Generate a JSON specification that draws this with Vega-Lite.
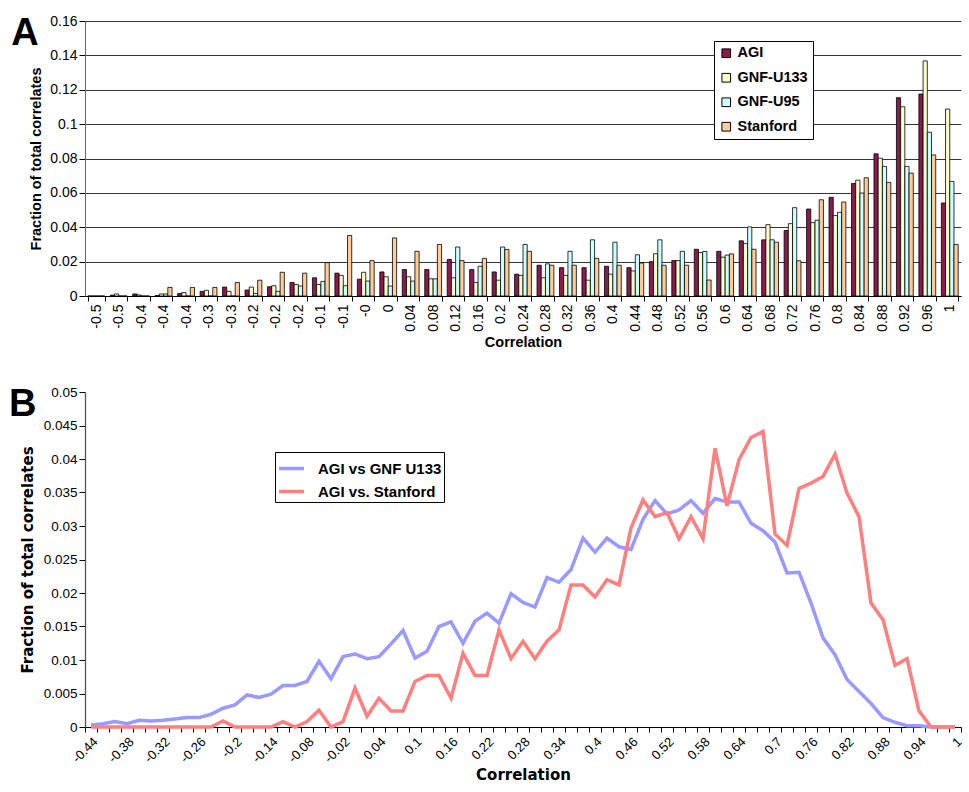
{
  "$schema": "https://vega.github.io/schema/vega-lite/v6.json",
  "background": "white",
  "padding": {"left": 9, "top": 14, "right": 0, "bottom": 0},
  "config": {
    "font": "Liberation Sans",
    "view": {"stroke": null},
    "axis": {"labelColor": "black", "titleColor": "black", "tickColor": "black", "domainColor": "black", "grid": false},
    "legend": {"labelColor": "black"}
  },
  "datasets": {
    "bars": [
      {"c": -0.52, "AGI": 0, "GNF-U133": 0, "GNF-U95": 0, "Stanford": 0},
      {"c": -0.48, "AGI": 0.0005, "GNF-U133": 0.0012, "GNF-U95": 0, "Stanford": 0},
      {"c": -0.44, "AGI": 0.0012, "GNF-U133": 0.0006, "GNF-U95": 0, "Stanford": 0},
      {"c": -0.40, "AGI": 0.0003, "GNF-U133": 0.0012, "GNF-U95": 0.0012, "Stanford": 0.005},
      {"c": -0.36, "AGI": 0.0015, "GNF-U133": 0.002, "GNF-U95": 0, "Stanford": 0.005},
      {"c": -0.32, "AGI": 0.0027, "GNF-U133": 0.0033, "GNF-U95": 0, "Stanford": 0.005},
      {"c": -0.28, "AGI": 0.0052, "GNF-U133": 0.0027, "GNF-U95": 0, "Stanford": 0.0079},
      {"c": -0.24, "AGI": 0.0035, "GNF-U133": 0.0052, "GNF-U95": 0.0015, "Stanford": 0.0092},
      {"c": -0.20, "AGI": 0.0054, "GNF-U133": 0.006, "GNF-U95": 0.0027, "Stanford": 0.0138},
      {"c": -0.16, "AGI": 0.0079, "GNF-U133": 0.0067, "GNF-U95": 0.0058, "Stanford": 0.0133},
      {"c": -0.12, "AGI": 0.0106, "GNF-U133": 0.0067, "GNF-U95": 0.0085, "Stanford": 0.0194},
      {"c": -0.08, "AGI": 0.0133, "GNF-U133": 0.012, "GNF-U95": 0.006, "Stanford": 0.0352},
      {"c": -0.04, "AGI": 0.0098, "GNF-U133": 0.0138, "GNF-U95": 0.0087, "Stanford": 0.0206},
      {"c": 0, "AGI": 0.014, "GNF-U133": 0.0112, "GNF-U95": 0.0058, "Stanford": 0.0338},
      {"c": 0.04, "AGI": 0.0154, "GNF-U133": 0.0112, "GNF-U95": 0.0087, "Stanford": 0.026},
      {"c": 0.08, "AGI": 0.0154, "GNF-U133": 0.01, "GNF-U95": 0.01, "Stanford": 0.03},
      {"c": 0.12, "AGI": 0.0213, "GNF-U133": 0.0106, "GNF-U95": 0.0285, "Stanford": 0.0206},
      {"c": 0.16, "AGI": 0.0154, "GNF-U133": 0.0079, "GNF-U95": 0.0173, "Stanford": 0.0219},
      {"c": 0.2, "AGI": 0.014, "GNF-U133": 0.0092, "GNF-U95": 0.0285, "Stanford": 0.0271},
      {"c": 0.24, "AGI": 0.0127, "GNF-U133": 0.012, "GNF-U95": 0.03, "Stanford": 0.026},
      {"c": 0.28, "AGI": 0.0179, "GNF-U133": 0.0106, "GNF-U95": 0.0187, "Stanford": 0.0179},
      {"c": 0.32, "AGI": 0.0165, "GNF-U133": 0.012, "GNF-U95": 0.026, "Stanford": 0.0179},
      {"c": 0.36, "AGI": 0.0165, "GNF-U133": 0.0092, "GNF-U95": 0.0327, "Stanford": 0.0219},
      {"c": 0.4, "AGI": 0.0173, "GNF-U133": 0.0127, "GNF-U95": 0.0313, "Stanford": 0.0179},
      {"c": 0.44, "AGI": 0.0165, "GNF-U133": 0.0146, "GNF-U95": 0.024, "Stanford": 0.0192},
      {"c": 0.48, "AGI": 0.02, "GNF-U133": 0.0246, "GNF-U95": 0.0327, "Stanford": 0.0179},
      {"c": 0.52, "AGI": 0.0206, "GNF-U133": 0.0206, "GNF-U95": 0.026, "Stanford": 0.0179},
      {"c": 0.56, "AGI": 0.0272, "GNF-U133": 0.0253, "GNF-U95": 0.0259, "Stanford": 0.0093},
      {"c": 0.6, "AGI": 0.026, "GNF-U133": 0.0226, "GNF-U95": 0.0238, "Stanford": 0.0245},
      {"c": 0.64, "AGI": 0.0321, "GNF-U133": 0.0305, "GNF-U95": 0.0402, "Stanford": 0.0272},
      {"c": 0.68, "AGI": 0.0327, "GNF-U133": 0.0415, "GNF-U95": 0.0327, "Stanford": 0.0313},
      {"c": 0.72, "AGI": 0.0381, "GNF-U133": 0.0421, "GNF-U95": 0.0514, "Stanford": 0.0205},
      {"c": 0.76, "AGI": 0.0506, "GNF-U133": 0.0427, "GNF-U95": 0.0441, "Stanford": 0.056},
      {"c": 0.8, "AGI": 0.0574, "GNF-U133": 0.0468, "GNF-U95": 0.0487, "Stanford": 0.0547},
      {"c": 0.84, "AGI": 0.0655, "GNF-U133": 0.0674, "GNF-U95": 0.0599, "Stanford": 0.0688},
      {"c": 0.88, "AGI": 0.0827, "GNF-U133": 0.0802, "GNF-U95": 0.0754, "Stanford": 0.0661},
      {"c": 0.92, "AGI": 0.1154, "GNF-U133": 0.1101, "GNF-U95": 0.0754, "Stanford": 0.0715},
      {"c": 0.96, "AGI": 0.1175, "GNF-U133": 0.1368, "GNF-U95": 0.0953, "Stanford": 0.0821},
      {"c": 1, "AGI": 0.0541, "GNF-U133": 0.1088, "GNF-U95": 0.0667, "Stanford": 0.03}
    ],
    "lines": [
      {"c": -0.44, "gnf": 0.0003, "stanford": 0},
      {"c": -0.42, "gnf": 0.0005, "stanford": 0},
      {"c": -0.4, "gnf": 0.0008, "stanford": 0},
      {"c": -0.38, "gnf": 0.0005, "stanford": 0},
      {"c": -0.36, "gnf": 0.001, "stanford": 0},
      {"c": -0.34, "gnf": 0.0009, "stanford": 0},
      {"c": -0.32, "gnf": 0.001, "stanford": 0},
      {"c": -0.3, "gnf": 0.0012, "stanford": 0},
      {"c": -0.28, "gnf": 0.0014, "stanford": 0},
      {"c": -0.26, "gnf": 0.0014, "stanford": 0},
      {"c": -0.24, "gnf": 0.0019, "stanford": 0},
      {"c": -0.22, "gnf": 0.0028, "stanford": 0.0009},
      {"c": -0.2, "gnf": 0.0033, "stanford": 0},
      {"c": -0.18, "gnf": 0.0048, "stanford": 0},
      {"c": -0.16, "gnf": 0.0044, "stanford": 0},
      {"c": -0.14, "gnf": 0.0049, "stanford": 0},
      {"c": -0.12, "gnf": 0.0062, "stanford": 0.0008},
      {"c": -0.1, "gnf": 0.0062, "stanford": 0},
      {"c": -0.08, "gnf": 0.0068, "stanford": 0.0008},
      {"c": -0.06, "gnf": 0.0098, "stanford": 0.0025},
      {"c": -0.04, "gnf": 0.0072, "stanford": 0},
      {"c": -0.02, "gnf": 0.0105, "stanford": 0.0008},
      {"c": 0, "gnf": 0.0109, "stanford": 0.0058},
      {"c": 0.02, "gnf": 0.0102, "stanford": 0.0016},
      {"c": 0.04, "gnf": 0.0105, "stanford": 0.0043},
      {"c": 0.06, "gnf": 0.0124, "stanford": 0.0024},
      {"c": 0.08, "gnf": 0.0144, "stanford": 0.0024},
      {"c": 0.1, "gnf": 0.0103, "stanford": 0.0068},
      {"c": 0.12, "gnf": 0.0113, "stanford": 0.0077},
      {"c": 0.14, "gnf": 0.015, "stanford": 0.0077},
      {"c": 0.16, "gnf": 0.0157, "stanford": 0.0043},
      {"c": 0.18, "gnf": 0.0125, "stanford": 0.011},
      {"c": 0.2, "gnf": 0.0158, "stanford": 0.0077},
      {"c": 0.22, "gnf": 0.017, "stanford": 0.0077},
      {"c": 0.24, "gnf": 0.0155, "stanford": 0.0145},
      {"c": 0.26, "gnf": 0.0199, "stanford": 0.0102},
      {"c": 0.28, "gnf": 0.0186, "stanford": 0.0128},
      {"c": 0.3, "gnf": 0.0179, "stanford": 0.0102},
      {"c": 0.32, "gnf": 0.0223, "stanford": 0.0128},
      {"c": 0.34, "gnf": 0.0216, "stanford": 0.0145},
      {"c": 0.36, "gnf": 0.0235, "stanford": 0.0212},
      {"c": 0.38, "gnf": 0.0282, "stanford": 0.0212},
      {"c": 0.4, "gnf": 0.0261, "stanford": 0.0194},
      {"c": 0.42, "gnf": 0.0282, "stanford": 0.022},
      {"c": 0.44, "gnf": 0.0269, "stanford": 0.0212},
      {"c": 0.46, "gnf": 0.0265, "stanford": 0.0297},
      {"c": 0.48, "gnf": 0.031, "stanford": 0.0339},
      {"c": 0.5, "gnf": 0.0338, "stanford": 0.0314},
      {"c": 0.52, "gnf": 0.0318, "stanford": 0.032},
      {"c": 0.54, "gnf": 0.0324, "stanford": 0.0281},
      {"c": 0.56, "gnf": 0.0338, "stanford": 0.0314},
      {"c": 0.58, "gnf": 0.0319, "stanford": 0.0281},
      {"c": 0.6, "gnf": 0.0341, "stanford": 0.0416},
      {"c": 0.62, "gnf": 0.0336, "stanford": 0.033},
      {"c": 0.64, "gnf": 0.0336, "stanford": 0.0399},
      {"c": 0.66, "gnf": 0.0304, "stanford": 0.0432},
      {"c": 0.68, "gnf": 0.0293, "stanford": 0.0441},
      {"c": 0.7, "gnf": 0.0276, "stanford": 0.0288},
      {"c": 0.72, "gnf": 0.023, "stanford": 0.0271},
      {"c": 0.74, "gnf": 0.0231, "stanford": 0.0356},
      {"c": 0.76, "gnf": 0.0185, "stanford": 0.0364},
      {"c": 0.78, "gnf": 0.0133, "stanford": 0.0374},
      {"c": 0.8, "gnf": 0.0108, "stanford": 0.0407},
      {"c": 0.82, "gnf": 0.0071, "stanford": 0.0349},
      {"c": 0.84, "gnf": 0.0053, "stanford": 0.0314},
      {"c": 0.86, "gnf": 0.0035, "stanford": 0.0185},
      {"c": 0.88, "gnf": 0.0014, "stanford": 0.016},
      {"c": 0.9, "gnf": 0.0007, "stanford": 0.0092},
      {"c": 0.92, "gnf": 0.0002, "stanford": 0.0102},
      {"c": 0.94, "gnf": 0.0002, "stanford": 0.0024},
      {"c": 0.96, "gnf": 0, "stanford": 0},
      {"c": 0.98, "gnf": 0, "stanford": 0},
      {"c": 1, "gnf": 0, "stanford": 0}
    ],
    "panelA": [{"t": "A"}],
    "panelB": [{"t": "B"}]
  },
  "columns": 1,
  "spacing": 36,
  "resolve": {"scale": {"color": "independent"}, "legend": {"color": "independent"}},
  "concat": [
    {
      "width": 876,
      "height": 275,
      "layer": [
        {
          "data": {"name": "bars"},
          "transform": [{"fold": ["AGI", "GNF-U133", "GNF-U95", "Stanford"], "as": ["series", "value"]}],
          "mark": {"type": "bar", "stroke": "black", "strokeWidth": 0.8},
          "encoding": {
            "x": {
              "field": "c", "type": "ordinal",
              "scale": {"paddingInner": 0.25, "paddingOuter": 0.125},
              "axis": {
                "title": "Correlation", "titleFontSize": 14.5, "titleFontWeight": "bold", "titlePadding": 4,
                "labelAngle": -90, "labelFontSize": 14, "labelPadding": 3, "labelOverlap": false,
                "labelExpr": "datum.value < 0 ? '-' + round(abs(datum.value) * 10) / 10 : datum.label",
                "tickBand": "extent", "tickSize": 5
              }
            },
            "xOffset": {"field": "series", "type": "nominal", "sort": ["AGI", "GNF-U133", "GNF-U95", "Stanford"], "scale": {"paddingInner": 0, "paddingOuter": 0}},
            "y": {
              "field": "value", "type": "quantitative",
              "scale": {"domain": [0, 0.16]},
              "axis": {
                "title": "Fraction of total correlates", "titleFontSize": 14.5, "titleFontWeight": "bold", "titlePadding": 6,
                "values": [0, 0.02, 0.04, 0.06, 0.08, 0.1, 0.12, 0.14, 0.16], "format": "~g", "labelOverlap": false,
                "labelFontSize": 14, "grid": true, "gridColor": "black", "gridWidth": 0.8,
                "tickSize": 6, "domainColor": "#666666"
              }
            },
            "color": {
              "field": "series", "type": "nominal",
              "scale": {"domain": ["AGI", "GNF-U133", "GNF-U95", "Stanford"], "range": ["#8b1a4f", "#ffffcc", "#ccffff", "#ffcc99"]},
              "legend": {
                "orient": "none", "legendX": 629, "legendY": 20, "title": null,
                "symbolType": "square", "symbolSize": 75, "symbolStrokeColor": "black", "symbolStrokeWidth": 1,
                "labelFontSize": 14.5, "labelFontWeight": "bold", "labelOffset": 4,
                "strokeColor": "black", "fillColor": "white", "padding": 5, "rowPadding": 9.5
              }
            }
          }
        },
        {
          "data": {"name": "panelA"},
          "mark": {"type": "text", "fontSize": 38, "fontWeight": "bold", "align": "left", "baseline": "alphabetic", "dx": -85, "dy": 24, "color": "black"},
          "encoding": {
            "x": {
              "datum": -0.52, "type": "ordinal",
              "axis": {
                "title": "Correlation", "titleFontSize": 14.5, "titleFontWeight": "bold", "titlePadding": 4,
                "labelAngle": -90, "labelFontSize": 14, "labelPadding": 3, "labelOverlap": false,
                "labelExpr": "datum.value < 0 ? '-' + round(abs(datum.value) * 10) / 10 : datum.label",
                "tickBand": "extent", "tickSize": 5
              }
            },
            "y": {
              "datum": 0.16, "type": "quantitative",
              "axis": {
                "title": "Fraction of total correlates", "titleFontSize": 14.5, "titleFontWeight": "bold", "titlePadding": 6,
                "values": [0, 0.02, 0.04, 0.06, 0.08, 0.1, 0.12, 0.14, 0.16], "format": "~g", "labelOverlap": false,
                "labelFontSize": 14, "grid": true, "gridColor": "black", "gridWidth": 0.8,
                "tickSize": 6, "domainColor": "#666666"
              }
            },
            "text": {"field": "t", "type": "nominal"}
          }
        }
      ]
    },
    {
      "width": 876,
      "height": 335,
      "layer": [
        {
          "data": {"name": "lines"},
          "transform": [{"fold": ["gnf", "stanford"], "as": ["series", "value"]}],
          "mark": {"type": "line", "strokeWidth": 3.5},
          "encoding": {
            "x": {
              "field": "c", "type": "ordinal",
              "scale": {"type": "band", "paddingInner": 0, "paddingOuter": 0},
              "bandPosition": 0.5,
              "axis": {
                "title": "Correlation", "titleFont": "DejaVu Sans", "titleFontSize": 15, "titleFontWeight": "bold", "titlePadding": 2,
                "labelAngle": -45, "labelFontSize": 13, "labelPadding": 3, "labelOverlap": false,
                "labelExpr": "round((datum.value + 0.44) * 50) % 3 == 0 ? datum.label : ''",
                "tickBand": "extent", "tickSize": 5
              }
            },
            "y": {
              "field": "value", "type": "quantitative",
              "scale": {"domain": [0, 0.05]},
              "axis": {
                "title": "Fraction of total correlates", "titleFont": "DejaVu Sans", "titleFontSize": 15, "titleFontWeight": "bold", "titlePadding": 8,
                "values": [0, 0.005, 0.01, 0.015, 0.02, 0.025, 0.03, 0.035, 0.04, 0.045, 0.05], "format": "~g", "labelOverlap": false,
                "labelFontSize": 13.5, "tickSize": 6, "domainColor": "#555555", "domainWidth": 1.3
              }
            },
            "color": {
              "field": "series", "type": "nominal",
              "scale": {"domain": ["gnf", "stanford"], "range": ["#9999ff", "#ff7f7f"]},
              "legend": {
                "orient": "none", "legendX": 190, "legendY": 60, "title": null,
                "labelExpr": "datum.value == 'gnf' ? 'AGI vs GNF U133' : 'AGI vs. Stanford'",
                "symbolType": "stroke", "symbolSize": 625, "symbolStrokeWidth": 3.5,
                "labelFontSize": 15, "labelFontWeight": "bold", "labelOffset": 12,
                "strokeColor": "black", "fillColor": "white", "padding": 2, "rowPadding": 0
              }
            }
          }
        },
        {
          "data": {"name": "panelB"},
          "mark": {"type": "text", "fontSize": 38, "fontWeight": "bold", "align": "left", "baseline": "alphabetic", "dx": -82, "dy": 24, "color": "black"},
          "encoding": {
            "x": {
              "datum": -0.44, "type": "ordinal",
              "axis": {
                "title": "Correlation", "titleFont": "DejaVu Sans", "titleFontSize": 15, "titleFontWeight": "bold", "titlePadding": 2,
                "labelAngle": -45, "labelFontSize": 13, "labelPadding": 3, "labelOverlap": false,
                "labelExpr": "round((datum.value + 0.44) * 50) % 3 == 0 ? datum.label : ''",
                "tickBand": "extent", "tickSize": 5
              }
            },
            "y": {
              "datum": 0.05, "type": "quantitative",
              "axis": {
                "title": "Fraction of total correlates", "titleFont": "DejaVu Sans", "titleFontSize": 15, "titleFontWeight": "bold", "titlePadding": 8,
                "values": [0, 0.005, 0.01, 0.015, 0.02, 0.025, 0.03, 0.035, 0.04, 0.045, 0.05], "format": "~g", "labelOverlap": false,
                "labelFontSize": 13.5, "tickSize": 6, "domainColor": "#555555", "domainWidth": 1.3
              }
            },
            "text": {"field": "t", "type": "nominal"}
          }
        }
      ]
    }
  ]
}
